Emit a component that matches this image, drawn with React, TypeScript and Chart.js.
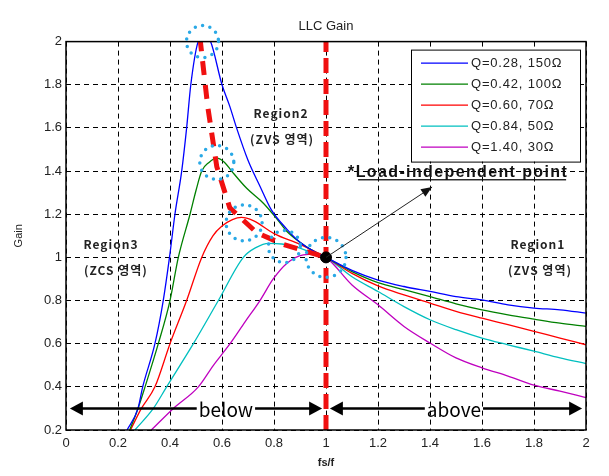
import React, { useEffect, useRef } from 'react';
import { Chart, registerables } from 'chart.js';

Chart.register(...registerables);

// ---------------- data ----------------
const seriesLabels = ['Q=0.28, 150Ω', 'Q=0.42, 100Ω', 'Q=0.60, 70Ω', 'Q=0.84, 50Ω', 'Q=1.40, 30Ω'];

const q028X = [0.235, 0.277, 0.295, 0.342, 0.374, 0.398, 0.419, 0.445, 0.464, 0.48, 0.508, 0.53, 0.556, 0.6, 0.63, 0.656, 0.7, 0.746, 0.79, 0.85, 0.9, 0.95, 1.0, 1.1, 1.2, 1.3, 1.4, 1.5, 1.6, 1.7, 1.8, 1.9, 2.0];
const q028Y = [0.2, 0.3, 0.4, 0.6, 0.8, 1.0, 1.2, 1.4, 1.6, 1.8, 2.0, 2.03, 2.0, 1.8, 1.7, 1.6, 1.45, 1.33, 1.22, 1.13, 1.07, 1.03, 1.0, 0.94, 0.895, 0.865, 0.842, 0.818, 0.803, 0.78, 0.765, 0.757, 0.742];

const q042X = [0.245, 0.277, 0.304, 0.355, 0.4, 0.432, 0.477, 0.5, 0.522, 0.55, 0.58, 0.61, 0.637, 0.695, 0.76, 0.81, 0.85, 0.9, 0.95, 1.0, 1.1, 1.2, 1.3, 1.4, 1.5, 1.6, 1.7, 1.8, 1.9, 2.0];
const q042Y = [0.2, 0.3, 0.4, 0.6, 0.8, 1.0, 1.2, 1.31, 1.4, 1.44, 1.46, 1.44, 1.4, 1.32, 1.25, 1.18, 1.12, 1.07, 1.03, 1.0, 0.934, 0.883, 0.85, 0.818, 0.785, 0.757, 0.734, 0.714, 0.695, 0.68];

const q060X = [0.248, 0.29, 0.342, 0.4, 0.464, 0.522, 0.565, 0.6, 0.64, 0.675, 0.72, 0.8, 0.9, 1.0, 1.1, 1.2, 1.3, 1.4, 1.5, 1.6, 1.7, 1.8, 1.9, 2.0];
const q060Y = [0.2, 0.3, 0.4, 0.6, 0.8, 1.0, 1.1, 1.145, 1.175, 1.185, 1.17, 1.11, 1.06, 1.0, 0.926, 0.868, 0.826, 0.788, 0.75, 0.718, 0.688, 0.657, 0.626, 0.595];

const q084X = [0.265, 0.336, 0.387, 0.49, 0.586, 0.682, 0.73, 0.78, 0.83, 0.88, 0.94, 1.0, 1.1, 1.2, 1.3, 1.4, 1.5, 1.6, 1.7, 1.8, 1.9, 2.0];
const q084Y = [0.2, 0.3, 0.4, 0.6, 0.8, 1.0, 1.045, 1.065, 1.062, 1.05, 1.025, 1.0, 0.91, 0.842, 0.772, 0.711, 0.665, 0.626, 0.595, 0.565, 0.534, 0.508];

const q140X = [0.328, 0.413, 0.509, 0.567, 0.631, 0.688, 0.746, 0.797, 0.849, 0.913, 0.96, 1.0, 1.1, 1.2, 1.3, 1.4, 1.5, 1.6, 1.7, 1.8, 1.9, 2.0];
const q140Y = [0.2, 0.3, 0.4, 0.5, 0.6, 0.7, 0.8, 0.9, 0.972, 1.012, 1.015, 1.0, 0.872, 0.78, 0.68, 0.603, 0.534, 0.488, 0.45, 0.408, 0.38, 0.35];

// red dashed path through the peaks
const peakPathX = [0.515, 0.545, 0.58, 0.63, 0.733, 0.836, 1.0];
const peakPathY = [2.02, 1.7, 1.42, 1.23, 1.115, 1.06, 1.0];

// boundary line fs/f = 1 and load-independent point
const boundaryX = [1, 1];
const boundaryY = [0.2, 2];
const loadPointX = [1];
const loadPointY = [1];

// highlighted (circled) points
const circleX = [0.525, 0.58, 0.685, 0.84, 1.0];
const circleY = [2.0, 1.44, 1.16, 1.05, 1.0];

const xTickValues = [0, 0.2, 0.4, 0.6, 0.8, 1, 1.2, 1.4, 1.6, 1.8, 2];
const xTickLabels = ['0', '0.2', '0.4', '0.6', '0.8', '1', '1.2', '1.4', '1.6', '1.8', '2'];
const yTickValues = [0.2, 0.4, 0.6, 0.8, 1, 1.2, 1.4, 1.6, 1.8, 2];
const yTickLabels = ['0.2', '0.4', '0.6', '0.8', '1', '1.2', '1.4', '1.6', '1.8', '2'];

const titleText = 'LLC Gain';
const xTitle = 'fs/f';
const yTitle = 'Gain';

// ---------------- styles ----------------
const seriesColors = ['#0000ff', '#008000', '#ff0000', '#00bfbf', '#bf00bf'];
const SANS = "'Liberation Sans', Arial, sans-serif";
const KR = "'Noto Sans CJK KR', 'Noto Sans', sans-serif";

const zip = (xs: number[], ys: number[]) => xs.map((x, i) => ({ x, y: ys[i] }));

function arrowHead(ctx: CanvasRenderingContext2D, fx: number, fy: number, tx: number, ty: number, len: number, half: number) {
  const ang = Math.atan2(ty - fy, tx - fx);
  ctx.beginPath();
  ctx.moveTo(tx, ty);
  ctx.lineTo(tx - len * Math.cos(ang) + half * Math.sin(ang), ty - len * Math.sin(ang) - half * Math.cos(ang));
  ctx.lineTo(tx - len * Math.cos(ang) - half * Math.sin(ang), ty - len * Math.sin(ang) + half * Math.cos(ang));
  ctx.closePath();
  ctx.fill();
}

const overlayPlugin = {
  id: 'overlay',
  afterDatasetsDraw(chart: any) {
    const { ctx, chartArea: a, scales } = chart;
    const sx = scales.x, sy = scales.y;
    const px = (v: number) => sx.getPixelForValue(v);
    const py = (v: number) => sy.getPixelForValue(v);
    ctx.save();

    // frame
    ctx.setLineDash([]);
    ctx.strokeStyle = '#000';
    ctx.lineWidth = 1.5;
    ctx.strokeRect(a.left, a.top, a.right - a.left, a.bottom - a.top);

    // dotted highlight circles
    const radii = [16, 17, 18, 16, 20];
    ctx.strokeStyle = '#2aa9e6';
    ctx.lineWidth = 3.5;
    ctx.lineCap = 'round';
    ctx.setLineDash([0, 7.5]);
    circleX.forEach((cx, i) => {
      ctx.beginPath();
      ctx.arc(px(cx), py(circleY[i]), radii[i], 0, Math.PI * 2);
      ctx.stroke();
    });
    ctx.setLineDash([]);
    ctx.lineCap = 'butt';

    // arrow from the load-independent point to the note
    ctx.strokeStyle = '#222';
    ctx.fillStyle = '#111';
    ctx.lineWidth = 1;
    const ax0 = px(1), ay0 = py(1), ax1 = px(1.408), ay1 = py(1.326);
    ctx.beginPath();
    ctx.moveTo(ax0, ay0);
    ctx.lineTo(ax1, ay1);
    ctx.stroke();
    arrowHead(ctx, ax0, ay0, ax1, ay1, 11, 4.5);

    // note text (stretched to the reference width)
    ctx.fillStyle = '#111';
    ctx.font = `bold 16px ${SANS}`;
    ctx.textAlign = 'left';
    ctx.textBaseline = 'alphabetic';
    const note = '*Load-independent point';
    const nx = px(1.085), ny = py(1.372);
    const natural = ctx.measureText(note).width;
    const spacing = Math.max(0, (220 - natural) / note.length);
    try { (ctx as any).letterSpacing = `${spacing}px`; } catch (e) {}
    ctx.fillText(note, nx, ny);
    const nw = ctx.measureText(note).width;
    ctx.fillRect(nx + 10, ny + 2, nw - 12, 1.3);
    try { (ctx as any).letterSpacing = '0px'; } catch (e) {}

    // below / above arrows
    ctx.fillStyle = '#000';
    ctx.strokeStyle = '#000';
    ctx.lineWidth = 2.5;
    ctx.font = `19px ${KR}`;
    ctx.textAlign = 'center';
    ctx.textBaseline = 'middle';
    const ya = py(0.3);
    const spans = [
      { from: 0.015, to: 0.985, label: 'below', at: 0.615 },
      { from: 1.015, to: 1.985, label: 'above', at: 1.492 },
    ];
    spans.forEach((s) => {
      const l = px(s.from), r = px(s.to), c = px(s.at);
      const w = ctx.measureText(s.label).width;
      ctx.beginPath();
      ctx.moveTo(l + 8, ya);
      ctx.lineTo(c - w / 2 - 2, ya);
      ctx.moveTo(c + w / 2 + 2, ya);
      ctx.lineTo(r - 8, ya);
      ctx.stroke();
      arrowHead(ctx, r - 20, ya, r, ya, 13, 7);
      arrowHead(ctx, l + 20, ya, l, ya, 13, 7);
      ctx.fillText(s.label, c, ya + 1);
    });

    // region labels
    ctx.fillStyle = '#222';
    ctx.font = `bold 12px ${KR}`;
    try { (ctx as any).letterSpacing = '1px'; } catch (e) {}
    const regions = [
      { t: 'Region2', x: 0.827, y: 1.668 },
      { t: '(ZVS 영역)', x: 0.831, y: 1.548 },
      { t: 'Region3', x: 0.173, y: 1.059 },
      { t: '(ZCS 영역)', x: 0.192, y: 0.939 },
      { t: 'Region1', x: 1.815, y: 1.059 },
      { t: '(ZVS 영역)', x: 1.823, y: 0.939 },
    ];
    regions.forEach((r) => ctx.fillText(r.t, px(r.x), py(r.y)));
    try { (ctx as any).letterSpacing = '0px'; } catch (e) {}

    // legend
    const lx = a.right - 175, ly = a.top + 8, lw = 169, lh = 112;
    ctx.fillStyle = '#fff';
    ctx.fillRect(lx, ly, lw, lh);
    ctx.strokeStyle = '#000';
    ctx.lineWidth = 1;
    ctx.strokeRect(lx + 0.5, ly + 0.5, lw, lh);
    ctx.font = `13px ${SANS}`;
    ctx.textAlign = 'left';
    ctx.textBaseline = 'middle';
    try { (ctx as any).letterSpacing = '0.8px'; } catch (e) {}
    seriesLabels.forEach((lab, i) => {
      const yy = ly + 13.5 + i * 21;
      ctx.strokeStyle = seriesColors[i];
      ctx.lineWidth = 1.2;
      ctx.beginPath();
      ctx.moveTo(lx + 10, yy);
      ctx.lineTo(lx + 57, yy);
      ctx.stroke();
      ctx.fillStyle = '#222';
      ctx.fillText(lab, lx + 60, yy);
    });
    try { (ctx as any).letterSpacing = '0px'; } catch (e) {}

    ctx.restore();
  },
};

export default function App() {
  const ref = useRef<HTMLCanvasElement | null>(null);

  useEffect(() => {
    if (!ref.current) return;
    const curveXs = [q028X, q042X, q060X, q084X, q140X];
    const curveYs = [q028Y, q042Y, q060Y, q084Y, q140Y];

    const datasets: any[] = [
      {
        label: 'load point',
        data: zip(loadPointX, loadPointY),
        showLine: false,
        pointRadius: 5.5,
        pointBackgroundColor: '#000',
        pointBorderColor: '#000',
      },
      {
        label: 'fs/f = 1',
        data: zip(boundaryX, boundaryY),
        borderColor: '#f01010',
        borderWidth: 5,
        borderDash: [15, 6],
        pointRadius: 0,
      },
      {
        label: 'peak path',
        data: zip(peakPathX, peakPathY),
        borderColor: '#f01010',
        borderWidth: 5,
        borderDash: [14, 10],
        pointRadius: 0,
      },
      ...seriesLabels.map((label, i) => ({
        label,
        data: zip(curveXs[i], curveYs[i]),
        borderColor: seriesColors[i],
        borderWidth: 1.3,
        pointRadius: 0,
        cubicInterpolationMode: 'monotone',
      })),
    ];

    const chart = new Chart(ref.current, {
      type: 'line',
      data: { datasets },
      options: {
        animation: false,
        responsive: false,
        events: [],
        layout: { padding: { left: 0, right: 23, top: 0, bottom: 0 } },
        plugins: {
          legend: { display: false },
          tooltip: { enabled: false },
          title: {
            display: true,
            text: titleText,
            fullSize: false,
            color: '#222',
            font: { family: SANS, size: 13, weight: 'normal' },
            padding: { top: 19, bottom: 7 },
          },
        },
        scales: {
          x: {
            type: 'linear',
            min: 0,
            max: 2,
            afterBuildTicks: (s: any) => { s.ticks = xTickValues.map((v) => ({ value: v })); },
            afterFit: (s: any) => { s.height = 46; },
            ticks: {
              autoSkip: false,
              maxRotation: 0,
              padding: 6,
              color: '#222',
              font: { family: SANS, size: 13 },
              callback: (_v: any, i: number) => xTickLabels[i],
            },
            grid: { color: '#000', lineWidth: 1, drawTicks: false },
            border: { display: false, dash: [5, 4] },
            title: {
              display: true,
              text: xTitle,
              color: '#222',
              font: { family: SANS, size: 11, weight: 'bold' },
              padding: { top: 0, bottom: 6 },
            },
          },
          y: {
            type: 'linear',
            min: 0.2,
            max: 2,
            afterBuildTicks: (s: any) => { s.ticks = yTickValues.map((v) => ({ value: v })); },
            afterFit: (s: any) => { s.width = 66; },
            ticks: {
              autoSkip: false,
              padding: 4,
              color: '#222',
              font: { family: SANS, size: 13 },
              callback: (_v: any, i: number) => yTickLabels[i],
            },
            grid: { color: '#000', lineWidth: 1, drawTicks: false },
            border: { display: false, dash: [5, 4] },
            title: {
              display: true,
              text: yTitle,
              color: '#222',
              font: { family: SANS, size: 11 },
              padding: { top: 12, bottom: 0 },
            },
          },
        },
      } as any,
      plugins: [overlayPlugin],
    });
    return () => chart.destroy();
  }, []);

  return (
    <div style={{ position: 'absolute', left: 0, top: 0, width: 609, height: 476, background: '#fff' }}>
      <canvas ref={ref} width={609} height={476} style={{ display: 'block' }} />
    </div>
  );
}
